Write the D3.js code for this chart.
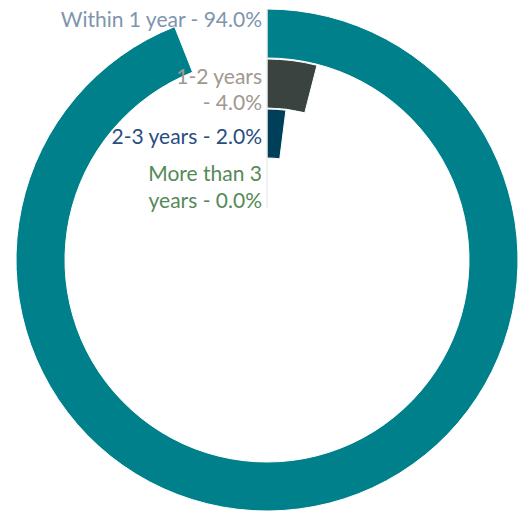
<!DOCTYPE html>
<html>
<head>
<meta charset="utf-8">
<script src="https://cdn.jsdelivr.net/npm/d3@7"></script>
<style>
  html, body { margin: 0; padding: 0; background: #ffffff; }
  svg { display: block; }
  text { font-family: Lato, "Open Sans", sans-serif; }
</style>
</head>
<body>
<svg id="chart" width="524" height="512"></svg>
<script>
// Share of items by age bucket, one ring per bucket (outermost first)
const categories = ["Within 1 year", "1-2 years", "2-3 years", "More than 3 years"];
const shares = [0.94, 0.04, 0.02, 0.00];
const ringColors = ["#00808a", "#3a433f", "#003f5a", "#6a9a5a"];
const labelColors = ["#7d95ad", "#a0988e", "#274e80", "#548a57"];
// Label lines as drawn next to the rings
const labelLines = [
  ["Within 1 year - 94.0%"],
  ["1-2 years", "- 4.0%"],
  ["2-3 years - 2.0%"],
  ["More than 3", "years - 0.0%"]
];

const svg = d3.select("#chart");
const cx = 267, cy = 260;
const outerR = 251, ringStep = 50, ringWidth = 49;

const angle = d3.scaleLinear().domain([0, 1]).range([0, 2 * Math.PI]);
const ringOuter = d3.scaleLinear().domain([0, 1]).range([outerR, outerR - ringStep]);

const g = svg.append("g").attr("transform", `translate(${cx},${cy})`);

const arc = d3.arc()
  .innerRadius((d, i) => ringOuter(i) - ringWidth)
  .outerRadius((d, i) => ringOuter(i))
  .startAngle(0)
  .endAngle(d => angle(d));

g.selectAll("path.ring")
  .data(shares)
  .join("path")
  .attr("class", "ring")
  .attr("d", (d, i) => arc(d, i))
  .attr("fill", (d, i) => ringColors[i])
  .attr("stroke", "#ffffff")
  .attr("stroke-width", 1);

// Faint seam at the shared start angle of the rings
g.append("line")
  .attr("x1", 0).attr("x2", 0)
  .attr("y1", -ringOuter(0))
  .attr("y2", -(ringOuter(categories.length - 1) - ringWidth))
  .attr("stroke", "#e4e4e4")
  .attr("stroke-width", 1);

// Labels, right-aligned just left of the start seam
const labelBaselines = [[27], [84, 110], [144], [181, 208]];
const labelX = 262;
categories.forEach((c, i) => {
  const t = svg.append("text")
    .attr("text-anchor", "end")
    .attr("fill", labelColors[i])
    .attr("font-size", 21);
  labelLines[i].forEach((line, j) => {
    t.append("tspan")
      .attr("x", labelX)
      .attr("y", labelBaselines[i][j])
      .text(line);
  });
});
</script>
</body>
</html>
